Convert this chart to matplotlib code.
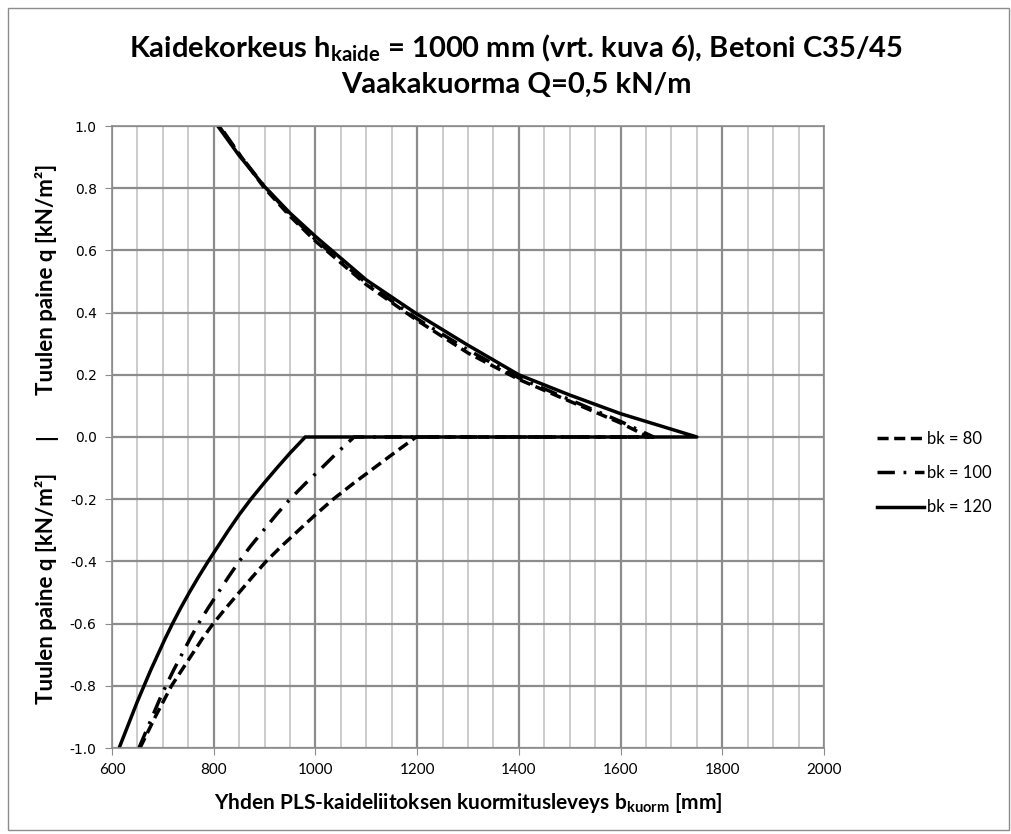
import matplotlib
matplotlib.use("Agg")
import matplotlib.pyplot as plt
from matplotlib.lines import Line2D
from matplotlib.patches import Rectangle

# ===================================
# values (b in mm, q in kN/m2)

q_low = [-1.0, -0.95, -0.9, -0.85, -0.8, -0.75, -0.7, -0.65, -0.6, -0.55, -0.5,
         -0.45, -0.4, -0.35, -0.3, -0.25, -0.2, -0.15, -0.1, -0.05, 0.0]

# bk = 80 (dashed)
b80_low = [655, 670, 685, 701, 717, 737, 757, 777, 799, 824, 850,
           876, 903, 934, 967, 1000, 1035, 1074, 1115, 1156, 1198]
b80_up = [810, 850, 900, 950, 1000, 1100, 1200, 1300, 1400, 1500, 1600, 1655]
q80_up = [1.0, 0.91, 0.80, 0.71, 0.63, 0.49, 0.375, 0.27, 0.185, 0.115, 0.045, 0.0]

# bk = 100 (dash-dot)
b100_low = [653, 666, 679, 692, 706, 721, 737, 753, 770, 789, 809,
            829, 850, 873, 898, 923, 950, 980, 1012, 1043, 1076]
b100_up = [812, 850, 900, 950, 1000, 1100, 1200, 1300, 1400, 1500, 1600, 1665]
q100_up = [1.0, 0.91, 0.805, 0.715, 0.635, 0.495, 0.38, 0.28, 0.19, 0.12, 0.05, 0.0]

# bk = 120 (solid)
b120_low = [614, 626, 638, 650, 663, 676, 690, 704, 719, 735, 752,
            770, 789, 809, 829, 850, 873, 898, 924, 951, 980]
b120_up = [808, 850, 900, 950, 1000, 1100, 1200, 1300, 1400, 1500, 1600, 1700, 1750]
q120_up = [1.0, 0.905, 0.805, 0.72, 0.645, 0.505, 0.395, 0.295, 0.20, 0.135, 0.075, 0.025, 0.0]

labels = ["bk = 80", "bk = 100", "bk = 120"]

# ===================================

plt.rcParams["mathtext.fontset"] = "custom"
plt.rcParams["mathtext.bf"] = "Lato:bold"
plt.rcParams["mathtext.rm"] = "Lato"

fig = plt.figure(figsize=(10.12, 8.34), dpi=100)
ax = fig.add_axes([112 / 1012, 86 / 834, 712 / 1012, 622 / 834])

styles = [
    dict(linestyle=(0, (3.2, 1.6)), linewidth=2.5),
    dict(linestyle=(0, (5, 2.5, 0.8, 2.5)), linewidth=2.5),
    dict(linestyle="-", linewidth=2.5),
]
series = [
    (b80_low, b80_up, q80_up),
    (b100_low, b100_up, q100_up),
    (b120_low, b120_up, q120_up),
]

for (bl, bu, qu), st in zip(series, styles):
    # lower branch, flat part along q = 0, then upper branch
    xs = bl + bu[::-1]
    ys = q_low + qu[::-1]
    ax.plot(xs, ys, color="black", solid_capstyle="butt", **st)

ax.set_xlim(600, 2000)
ax.set_ylim(-1.0, 1.0)
ax.set_xticks(range(600, 2001, 200))
ax.set_xticks(range(600, 2001, 50), minor=True)
ax.set_yticks([i / 10 for i in range(-10, 11, 2)])
ax.set_yticklabels([f"{i / 10:.1f}" for i in range(-10, 11, 2)],
                   family="DejaVu Sans", fontsize=10)
ax.set_xticklabels([str(v) for v in range(600, 2001, 200)], family="Lato", fontsize=11)

ax.grid(True, which="minor", axis="x", color="#c4c4c4", linewidth=1.2)
ax.grid(True, which="major", axis="both", color="#8c8c8c", linewidth=1.6)
ax.set_axisbelow(True)
ax.tick_params(which="major", direction="out", length=5, color="#8c8c8c", pad=6)
ax.tick_params(which="minor", length=0)
for s in ax.spines.values():
    s.set_color("#8c8c8c")
    s.set_linewidth(1.2)

ax.set_xlabel(r"Yhden PLS-kaideliitoksen kuormitusleveys b$_{\mathbf{kuorm}}$ [mm]",
              family="Lato", fontweight="bold", fontsize=15, labelpad=10)

# y label: two halves with a separator
ylab = "Tuulen paine q [kN/m²]"
for yy, txt in [(279, ylab), (437, "|"), (588, ylab)]:
    fig.text(46 / 1012, 1 - yy / 834, txt, rotation=90, ha="center", va="center",
             family="Lato", fontweight="bold", fontsize=16)

fig.text(516 / 1012, 1 - 48 / 834,
         r"Kaidekorkeus h$_{\mathbf{kaide}}$ = 1000 mm (vrt. kuva 6), Betoni C35/45",
         ha="center", va="center", family="Lato", fontweight="bold", fontsize=21)
fig.text(516 / 1012, 1 - 85 / 834, "Vaakakuorma Q=0,5 kN/m",
         ha="center", va="center", family="Lato", fontweight="bold", fontsize=21)

handles = [Line2D([], [], color="black", **st) for st in styles]
fig.legend(handles, labels, loc="center left",
           bbox_to_anchor=(862 / 1012, 1 - 473 / 834),
           frameon=False, handlelength=2.8, handletextpad=0.2,
           labelspacing=1.1, prop={"family": "Lato", "size": 12})

fig.patches.append(Rectangle((8 / 1012, 4 / 834), 1001 / 1012, 822 / 834,
                             transform=fig.transFigure, fill=False,
                             edgecolor="#8c8c8c", linewidth=1))

plt.savefig("out.png", dpi=100)
